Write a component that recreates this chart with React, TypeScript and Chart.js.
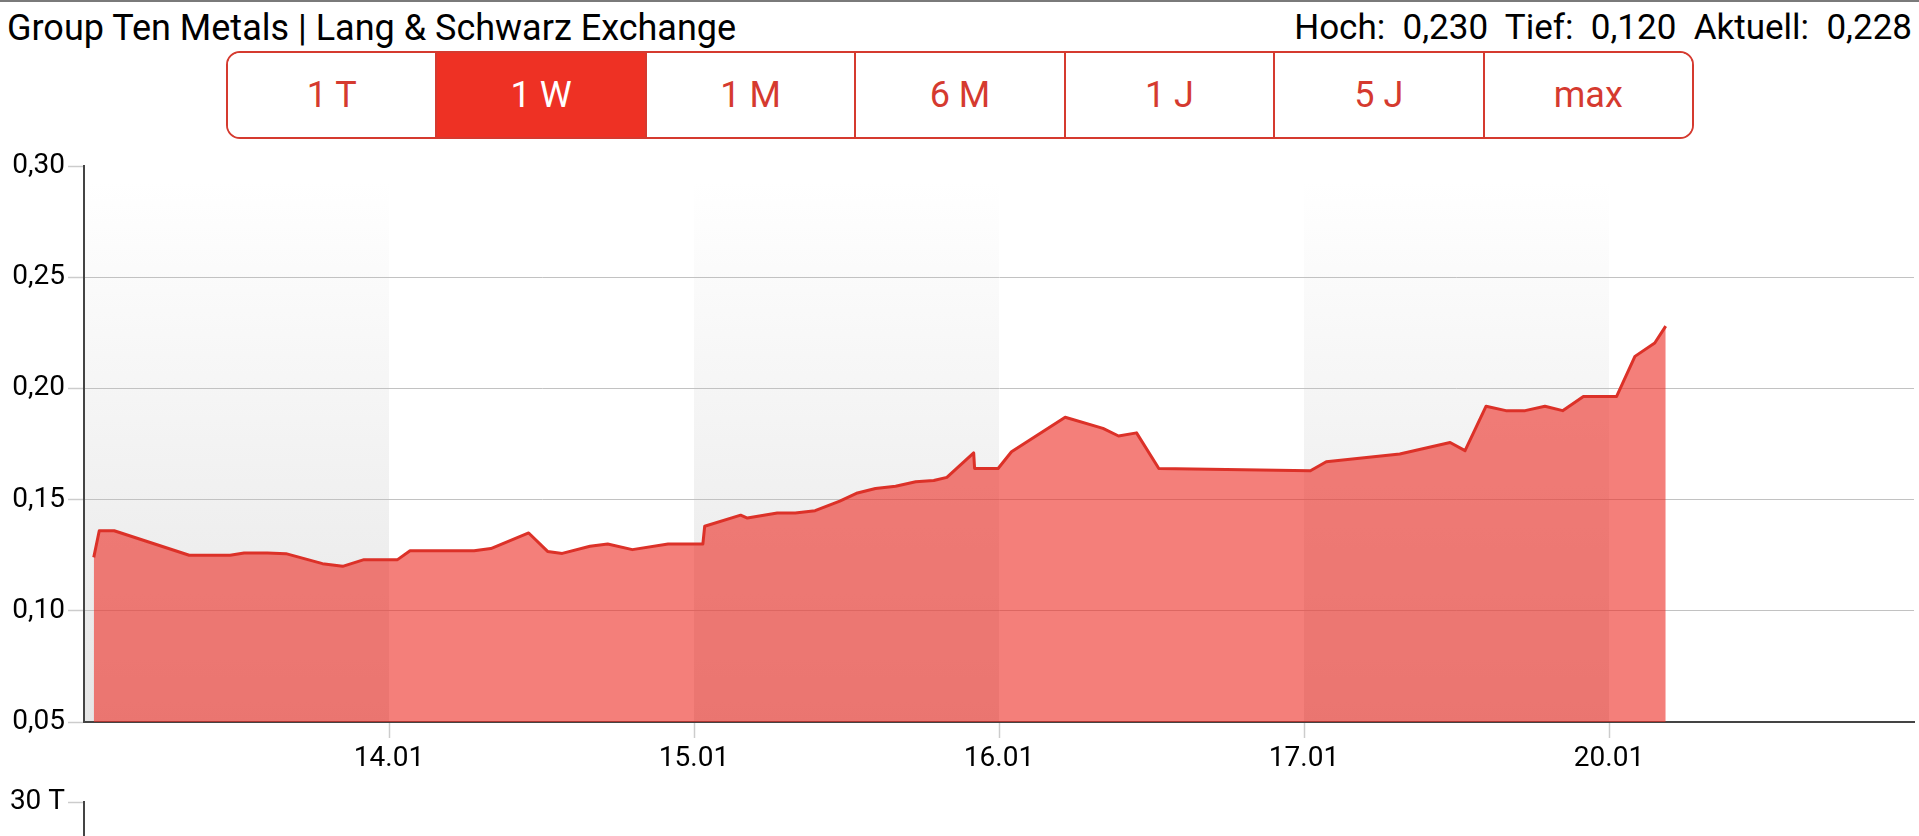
import React, { useEffect, useRef } from 'react';
import { Chart, registerables } from 'chart.js';

Chart.register(...registerables);

// ---- data (x = trading-day position, 0 = start of 13.01) ----
const tradeTimes = [
  0.032, 0.05, 0.099, 0.345, 0.479, 0.525, 0.601, 0.662, 0.782, 0.848, 0.918, 1.028,
  1.069, 1.279, 1.334, 1.458, 1.52, 1.568, 1.659, 1.717, 1.798, 1.915, 2.029, 2.035,
  2.153, 2.175, 2.273, 2.332, 2.397, 2.478, 2.536, 2.595, 2.661, 2.727, 2.786, 2.829,
  2.917, 2.92, 2.997, 3.041, 3.217, 3.341, 3.392, 3.451, 3.524, 4.021, 4.073, 4.314,
  4.479, 4.528, 4.597, 4.662, 4.725, 4.79, 4.848, 4.916, 5.025, 5.085, 5.15, 5.186,
];
const prices = [
  0.124, 0.136, 0.136, 0.125, 0.125, 0.126, 0.126, 0.1257, 0.1212, 0.12, 0.123, 0.123,
  0.127, 0.127, 0.128, 0.135, 0.1267, 0.1258, 0.129, 0.13, 0.1275, 0.13, 0.13, 0.138,
  0.143, 0.1417, 0.144, 0.144, 0.145, 0.1493, 0.153, 0.155, 0.156, 0.158, 0.1586, 0.16,
  0.171, 0.164, 0.164, 0.1715, 0.187, 0.182, 0.1786, 0.18, 0.164, 0.163, 0.167, 0.1705,
  0.1757, 0.172, 0.192, 0.19, 0.19, 0.192, 0.19, 0.1964, 0.1964, 0.2144, 0.2204, 0.228,
];
const xTickPositions = [1, 2, 3, 4, 5];
const xTickLabels = ['14.01', '15.01', '16.01', '17.01', '20.01'];
const xRange = [0, 6];
const yRange = [0.05, 0.3];
const yStep = 0.05;
const shadedDays = [0, 2, 4];
const volumeTicks = [30];
const volumeRange = [0, 30];
const rangeButtons = ['1 T', '1 W', '1 M', '6 M', '1 J', '5 J', 'max'];
const activeRange = '1 W';
const titleText = 'Group Ten Metals | Lang & Schwarz Exchange';
const statLabels = ['Hoch:', 'Tief:', 'Aktuell:'];
const statValues = ['0,230', '0,120', '0,228'];

const RED = '#d53a2f';
const FONT = 'Roboto';

const bandPlugin = {
  id: 'dayBands',
  beforeDraw(chart: any) {
    const { ctx, chartArea, scales } = chart;
    const xs = scales.x;
    const top = chartArea.top + 16;
    const g = ctx.createLinearGradient(0, top, 0, chartArea.bottom);
    g.addColorStop(0, '#ffffff');
    g.addColorStop(1, '#e6e6e6');
    ctx.save();
    ctx.fillStyle = g;
    shadedDays.forEach((d) => {
      const x0 = xs.getPixelForValue(d);
      const x1 = xs.getPixelForValue(d + 1);
      ctx.fillRect(x0, top, x1 - x0, chartArea.bottom - top);
    });
    ctx.restore();
  },
};

export default function App() {
  const mainRef = useRef<HTMLCanvasElement>(null);
  const volRef = useRef<HTMLCanvasElement>(null);

  useEffect(() => {
    const main = new Chart(mainRef.current as HTMLCanvasElement, {
      type: 'line',
      data: {
        datasets: [
          {
            data: tradeTimes.map((t, i) => ({ x: t, y: prices[i] })),
            borderColor: '#dc3128',
            borderWidth: 3,
            backgroundColor: 'rgba(237,45,37,0.61)',
            fill: 'start',
            pointRadius: 0,
            tension: 0,
            borderJoinStyle: 'round',
          },
        ],
      },
      options: {
        animation: false,
        responsive: true,
        maintainAspectRatio: false,
        events: [],
        layout: { padding: { top: 26, right: 5, left: 0, bottom: 0 } },
        plugins: { legend: { display: false }, tooltip: { enabled: false } },
        scales: {
          x: {
            type: 'linear',
            min: xRange[0],
            max: xRange[1],
            afterFit: (s: any) => {
              s.height = 60;
            },
            afterBuildTicks: (s: any) => {
              s.ticks = xTickPositions.map((v) => ({ value: v }));
            },
            grid: {
              drawOnChartArea: false,
              tickLength: 16,
              tickColor: '#cccccc',
              tickWidth: 1.5,
            },
            border: { color: '#444444', width: 2 },
            ticks: {
              autoSkip: false,
              maxRotation: 0,
              padding: 4,
              color: '#000',
              font: { family: FONT, size: 28 },
              callback: (v: any) => {
                const i = xTickPositions.indexOf(Number(v));
                return i >= 0 ? xTickLabels[i] : '';
              },
            },
          },
          y: {
            type: 'linear',
            min: yRange[0],
            max: yRange[1],
            afterFit: (s: any) => {
              s.width = 84;
            },
            grid: {
              color: (c: any) =>
                c.tick && Math.abs(c.tick.value - yRange[1]) < 1e-9 ? 'rgba(0,0,0,0)' : '#c2c2c2',
              lineWidth: 1,
              dash: [1, 1],
              borderDash: [1, 1],
              tickBorderDash: [],
              tickColor: '#cccccc',
              tickLength: 16,
              tickWidth: 1.5,
            },
            border: { color: '#444444', width: 2 },
            ticks: {
              stepSize: yStep,
              padding: 3,
              color: '#000',
              font: { family: FONT, size: 28 },
              callback: (v: any) => Number(v).toFixed(2).replace('.', ','),
            },
          },
        },
      },
      plugins: [bandPlugin],
    } as any);

    const vol = new Chart(volRef.current as HTMLCanvasElement, {
      type: 'bar',
      data: { labels: [], datasets: [{ data: [], backgroundColor: RED }] },
      options: {
        animation: false,
        responsive: true,
        maintainAspectRatio: false,
        events: [],
        layout: { padding: { top: 20, right: 5, left: 0, bottom: 0 } },
        plugins: { legend: { display: false }, tooltip: { enabled: false } },
        scales: {
          x: { display: false },
          y: {
            type: 'linear',
            min: volumeRange[0],
            max: volumeRange[1],
            afterFit: (s: any) => {
              s.width = 84;
            },
            afterBuildTicks: (s: any) => {
              s.ticks = volumeTicks.map((v) => ({ value: v }));
            },
            grid: {
              drawOnChartArea: false,
              tickColor: '#cccccc',
              tickLength: 16,
              tickWidth: 1.5,
            },
            border: { color: '#444444', width: 2 },
            ticks: {
              padding: 3,
              color: '#000',
              font: { family: FONT, size: 28 },
              callback: (v: any) => `${v} T`,
            },
          },
        },
      },
    } as any);

    return () => {
      main.destroy();
      vol.destroy();
    };
  }, []);

  return (
    <div
      style={{
        position: 'fixed',
        left: 0,
        top: 0,
        width: 1919,
        height: 836,
        overflow: 'hidden',
        background: '#fff',
        fontFamily: FONT,
      }}
    >
      <div style={{ position: 'absolute', left: 0, top: 0, width: '100%', height: 2, background: '#7a7a7a' }} />
      <div
        style={{
          position: 'absolute',
          left: 7,
          top: 1,
          height: 54,
          lineHeight: '54px',
          fontSize: 36,
          color: '#000',
          whiteSpace: 'pre',
        }}
      >
        {titleText}
      </div>
      <div
        style={{
          position: 'absolute',
          right: 7,
          top: 1,
          height: 54,
          lineHeight: '54px',
          fontSize: 35,
          color: '#000',
          whiteSpace: 'pre',
        }}
      >
        {statLabels.map((l, i) => `${l}  ${statValues[i]}`).join('  ')}
      </div>
      <div
        style={{
          position: 'absolute',
          left: 226,
          top: 51,
          width: 1468,
          height: 88,
          boxSizing: 'border-box',
          border: `2.5px solid ${RED}`,
          borderRadius: 14,
          overflow: 'hidden',
          display: 'flex',
        }}
      >
        {rangeButtons.map((b, i) => {
          const active = b === activeRange;
          return (
            <div
              key={b}
              style={{
                flex: 1,
                boxSizing: 'border-box',
                borderLeft: i === 0 ? 'none' : `2px solid ${RED}`,
                background: active ? '#ee3124' : '#fff',
                color: active ? '#fff' : RED,
                fontSize: 36,
                display: 'flex',
                alignItems: 'center',
                justifyContent: 'center',
                whiteSpace: 'pre',
              }}
            >
              {b}
            </div>
          );
        })}
      </div>
      <div style={{ position: 'absolute', left: 0, top: 140, width: 1919, height: 642 }}>
        <canvas ref={mainRef} />
      </div>
      <div style={{ position: 'absolute', left: 0, top: 782, width: 1919, height: 200 }}>
        <canvas ref={volRef} />
      </div>
    </div>
  );
}
